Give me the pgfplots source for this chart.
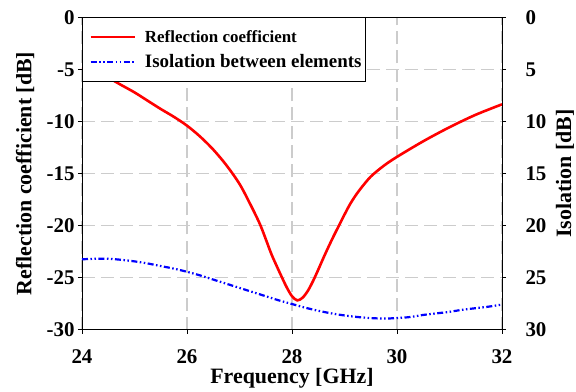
\documentclass[border=0pt]{standalone}
\usepackage{pgfplots}
\pgfplotsset{compat=1.18}
\usepackage{fontspec}
\setmainfont{Liberation Serif}
\begin{document}
\begin{tikzpicture}
\pgfplotsset{
  common/.style={
    scale only axis, width=420bp, height=312bp, at={(0,0)}, anchor=south west,
    xmin=24, xmax=32,
    tick align=outside, major tick length=4bp,
    axis line style={line width=0.8bp, black},
    every tick/.style={black, line width=0.8bp},
    /pgf/number format/assume math mode=true,
    ticklabel style={font=\fontsize{21}{24}\selectfont\bfseries},
    label style={font=\fontsize{22}{26}\selectfont\bfseries},
  }
}
\begin{axis}[common,
  ymin=-30, ymax=0,
  xtick={24,26,...,32}, ytick={-30,-25,...,0},
  xtick pos=left, ytick pos=left,
  xticklabel style={yshift=-13bp},
  grid=major,
  major grid style={black!20, line width=1.3bp, dash pattern=on 13bp off 6bp},
  xlabel={Frequency [GHz]},
  ylabel={Reflection coefficient [dB]},
  xlabel style={at={(axis description cs:0.5,-0.157)}, anchor=center},
  ylabel style={at={(axis description cs:-0.1357,0.5)}, anchor=center},
  legend style={at={(0,1)}, anchor=north west, draw=black, line width=0.8bp, fill=white,
    font=\bfseries, inner xsep=3bp, inner ysep=11.5bp, row sep=8.5bp,
    nodes={inner sep=1bp},
    /tikz/every odd column/.append style={column sep=8bp}},
  legend cell align=left,
  legend image code/.code={\path (0bp,0bp); \draw[#1] (4bp,0bp) -- (48bp,0bp);},
]
\addplot[red, line width=2.6bp, smooth, tension=0.5] table {
24.0 -4.8
24.25 -5.3
24.5 -5.8
24.75 -6.5
25.0 -7.2
25.25 -8.0
25.5 -8.8
25.75 -9.55
26.0 -10.4
26.25 -11.45
26.5 -12.7
26.75 -14.2
27.0 -16.0
27.2 -17.9
27.4 -20.0
27.6 -22.65
27.7 -23.8
27.8 -24.9
27.9 -25.95
28.0 -26.8
28.1 -27.2
28.2 -26.95
28.3 -26.3
28.4 -25.35
28.5 -24.25
28.6 -23.1
28.7 -22.0
28.8 -20.95
28.9 -19.95
29.0 -18.95
29.1 -18.0
29.2 -17.2
29.3 -16.5
29.5 -15.3
29.75 -14.25
30.0 -13.4
30.5 -11.9
31.0 -10.55
31.5 -9.35
32.0 -8.35
};
\addlegendentry{\fontsize{17}{20}\selectfont Reflection coefficient}
\addplot[blue, line width=2.2bp, smooth, tension=0.5,
  dash pattern=on 6bp off 2.5bp on 1.5bp off 2.5bp on 1.5bp off 2.5bp] table {
24.0 -23.25
24.25 -23.2
24.5 -23.2
24.75 -23.3
25.0 -23.45
25.25 -23.65
25.5 -23.9
25.75 -24.15
26.0 -24.45
26.25 -24.8
26.5 -25.2
26.75 -25.6
27.0 -26.0
27.25 -26.4
27.5 -26.8
27.75 -27.2
28.0 -27.55
28.25 -27.9
28.5 -28.2
28.75 -28.45
29.0 -28.65
29.25 -28.8
29.5 -28.9
29.75 -28.95
30.0 -28.9
30.25 -28.8
30.5 -28.6
30.75 -28.45
31.0 -28.3
31.25 -28.1
31.5 -27.95
31.75 -27.8
32.0 -27.6
};
\addlegendentry{\fontsize{19}{22}\selectfont Isolation between elements}
\end{axis}
\begin{axis}[common,
  ymin=0, ymax=30, y dir=reverse,
  axis x line=none, axis y line*=right,
  ytick={0,5,...,30},
  yticklabel style={xshift=16bp},
  ylabel={Isolation [dB]},
  ylabel style={at={(axis description cs:1.15,0.5)}, anchor=center},
]
\end{axis}
\pgfresetboundingbox
\useasboundingbox (-82bp,-62.5bp) rectangle (494bp,329.5bp);
\end{tikzpicture}
\end{document}
